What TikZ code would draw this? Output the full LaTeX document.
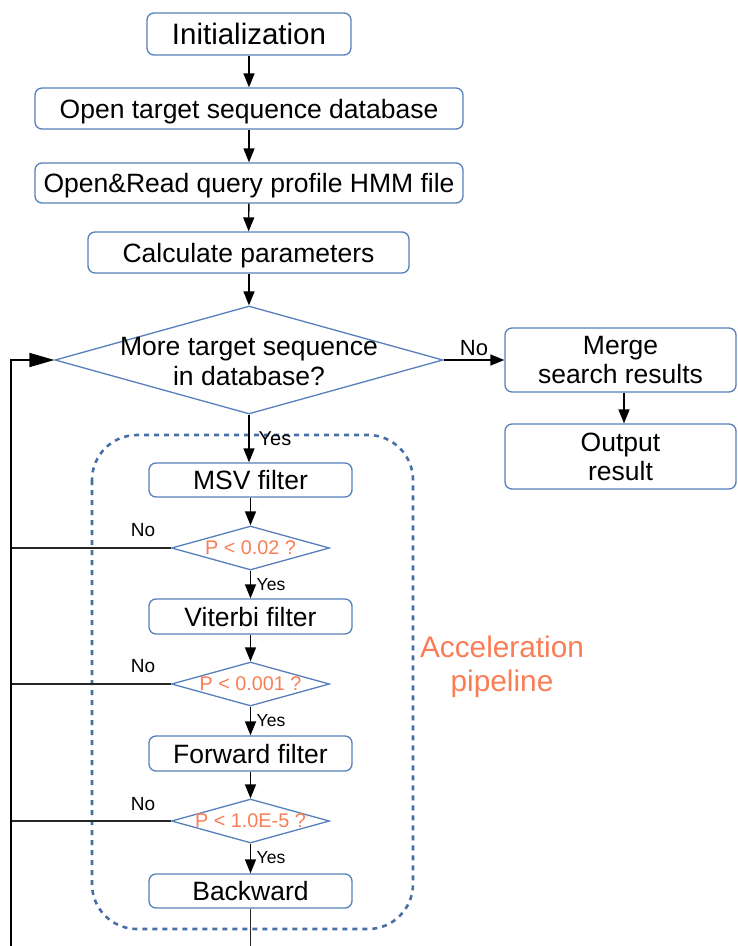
\documentclass[tikz,border=0pt]{standalone}
\usepackage{fontspec}
\setmainfont{Liberation Sans}
\usetikzlibrary{arrows.meta,shapes.geometric}
\definecolor{boxline}{RGB}{86,128,186}
\definecolor{pipeblue}{RGB}{72,110,168}
\definecolor{accent}{RGB}{250,125,85}
\tikzset{
  stepbox/.style={draw=boxline, line width=1.3pt, rounded corners=7pt, fill=white,
    inner sep=0pt, font=\fontsize{26.5}{29}\selectfont, align=center},
  oneline/.style={text height=19pt, text depth=0pt},
  dia/.style={draw=boxline, line width=1.3pt, diamond, inner sep=0pt, fill=white},
  flow/.style={line width=1.4pt, -{Triangle[length=14pt,width=11pt]}},
  plainline/.style={line width=1.4pt, black!85},
  ynlabel/.style={font=\fontsize{19}{22}\selectfont, inner sep=0pt},
  ptext/.style={font=\fontsize{19.8}{22}\selectfont, text=accent, inner sep=0pt}
}
\begin{document}
\begin{tikzpicture}[x=1pt,y=-1pt]
\useasboundingbox (0,0) rectangle (737,946);

% pipeline frame
\draw[pipeblue, line width=2.6pt, dash pattern=on 5pt off 5pt, rounded corners=45pt]
  (92,435) rectangle (413,929);
\node[font=\fontsize{29.8}{34}\selectfont, text=accent, align=center] (accel) at (502,667)
  {Acceleration\\pipeline};

% main column
\node[stepbox, minimum width=204pt, minimum height=42pt, font=\fontsize{29.5}{34}\selectfont,
  text height=21pt, text depth=0pt] (init) at (249,34) {Initialization};
\node[stepbox, oneline, minimum width=428pt, minimum height=41pt] (opendb) at (249,108.5)
  {Open target sequence database};
\node[stepbox, oneline, minimum width=428pt, minimum height=40pt] (openq) at (249,183)
  {Open\&Read query profile HMM file};
\node[stepbox, oneline, minimum width=321pt, minimum height=41pt] (calc) at (248.5,252.5)
  {Calculate parameters};
\node[dia, minimum width=388pt, minimum height=108pt] (more) at (249,360) {};
\node[font=\fontsize{26.5}{30}\selectfont, align=center, inner sep=0pt] (moretext) at (249,362)
  {More target sequence\\in database?};

% right branch
\node[stepbox, minimum width=231pt, minimum height=64pt] (merge) at (620.5,360)
  {Merge\\search results};
\node[stepbox, minimum width=231pt, minimum height=65pt] (out) at (620.5,456.5)
  {Output\\result};

% filters
\node[stepbox, oneline, minimum width=203pt, minimum height=34pt] (msv) at (250.5,480) {MSV filter};
\node[dia, minimum width=158pt, minimum height=44pt] (p1) at (250.5,548) {};
\node[ptext] (p1t) at (250.5,548) {P < 0.02 ?};
\node[stepbox, oneline, minimum width=203pt, minimum height=35pt] (vit) at (250.5,616.5) {Viterbi filter};
\node[dia, minimum width=158pt, minimum height=44pt] (p2) at (250.5,684) {};
\node[ptext] (p2t) at (250.5,684) {P < 0.001 ?};
\node[stepbox, oneline, minimum width=203pt, minimum height=35pt] (fwd) at (250.5,753.5) {Forward filter};
\node[dia, minimum width=158pt, minimum height=44pt] (p3) at (250.5,821) {};
\node[ptext] (p3t) at (250.5,821) {P < 1.0E-5 ?};
\node[stepbox, oneline, minimum width=203pt, minimum height=34pt] (bwd) at (250.5,891) {Backward};

% free ends
\coordinate (loopbot) at (11,946);
\coordinate (exit) at (250.5,946);

% connectors
\draw[flow] (init) -- (opendb);
\draw[flow] (opendb) -- (openq);
\draw[flow] (openq) -- (calc);
\draw[flow] (calc.south -| more.north) -- (more.north);
\draw[flow] (more.east) -- (merge.west);
\draw[flow] (merge.south -| 624,0) -- (out.north -| 624,0);
\draw[flow] (more.south) -- (more.south |- msv.north);
\draw[flow] (msv) -- (p1);
\draw[flow] (p1) -- (vit);
\draw[flow] (vit) -- (p2);
\draw[flow] (p2) -- (fwd);
\draw[flow] (fwd) -- (p3);
\draw[flow] (p3) -- (bwd);
\draw[plainline] (bwd.south) -- (exit);

% loop back to the decision
\draw[plainline] (p1.west) -- (p1.west -| loopbot);
\draw[plainline] (p2.west) -- (p2.west -| loopbot);
\draw[plainline] (p3.west) -- (p3.west -| loopbot);
\draw[line width=1.6pt, -{Triangle[length=25pt,width=14pt]}] (loopbot) |- (more.west);

% branch labels
\node[ynlabel, font=\fontsize{22}{24}\selectfont] (no0) at (474,348) {No};
\node[ynlabel, font=\fontsize{20}{22}\selectfont] (yes0) at (275,439) {Yes};
\node[ynlabel] (no1) at (143,530) {No};
\node[ynlabel] (no2) at (143,666) {No};
\node[ynlabel] (no3) at (143,804) {No};
\node[ynlabel, font=\fontsize{17.5}{20}\selectfont] (yes1) at (271,585) {Yes};
\node[ynlabel, font=\fontsize{17.5}{20}\selectfont] (yes2) at (271,721) {Yes};
\node[ynlabel, font=\fontsize{17.5}{20}\selectfont] (yes3) at (271,858) {Yes};
\end{tikzpicture}
\end{document}
